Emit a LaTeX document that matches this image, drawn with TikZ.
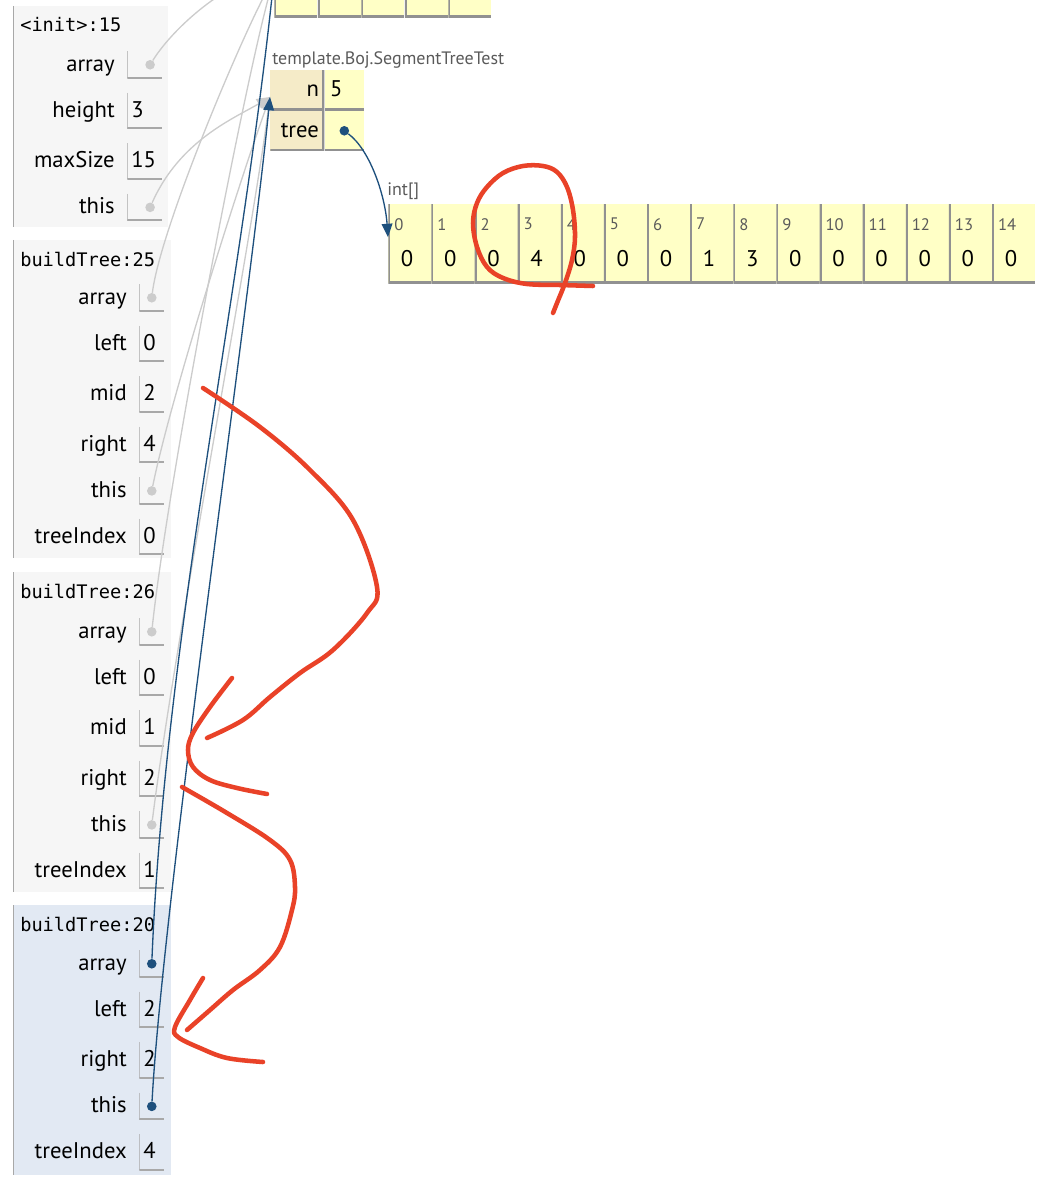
\documentclass[tikz,border=0pt]{standalone}
\usepackage{fontspec}
\setmainfont{PT Sans}
\setmonofont{DejaVu Sans Mono}
\usetikzlibrary{arrows.meta,positioning}

\definecolor{framebg}{RGB}{246,246,246}
\definecolor{curframebg}{RGB}{226,233,243}
\definecolor{frameline}{RGB}{168,168,168}
\definecolor{heapyellow}{RGB}{255,255,198}
\definecolor{heaptan}{RGB}{245,235,200}
\definecolor{cellline}{RGB}{145,145,145}
\definecolor{ptrblue}{RGB}{30,80,125}
\definecolor{ptrgray}{RGB}{204,204,204}
\definecolor{typegray}{RGB}{90,90,90}
\definecolor{penred}{RGB}{233,66,40}

\begin{document}
\begin{tikzpicture}[
    x=0.75pt, y=-0.75pt,
    varname/.style={
      inner sep=0pt, anchor=east,
      font=\fontsize{17}{20}\selectfont,
      text height=0.95em, text depth=0em,
    },
    valbox/.style={
      inner xsep=3pt, inner ysep=0pt,
      text width=#1, align=left, minimum height=27pt,
      font=\fontsize{17}{20}\selectfont,
      text height=0.95em, text depth=0em,
      path picture={
        \draw[frameline, line width=1.6pt]
          (path picture bounding box.north west) -- (path picture bounding box.south west);
        \draw[frameline, line width=2.4pt]
          (path picture bounding box.south west) -- (path picture bounding box.south east);
      },
    },
    valbox/.default=12.75pt,
    ptrbox/.style={valbox=#1, minimum height=20.25pt},
    ptrbox/.default=12.75pt,
    frametitle/.style={
      anchor=west, inner sep=0pt,
      font=\ttfamily\fontsize{14}{16}\selectfont,
    },
    dot/.style={circle, inner sep=0pt, minimum size=7.2pt, fill=#1},
    ptr/.style={draw=#1, line width=1pt, -{Triangle[length=10pt, width=8pt]}},
    arrcell/.style={
      anchor=north west, fill=heapyellow, inner sep=0pt,
      minimum width=32.35pt, minimum height=59.25pt,
      path picture={
        \draw[cellline, line width=3pt]
          (path picture bounding box.north west) -- (path picture bounding box.south west)
          -- (path picture bounding box.south east);
      },
    },
    idxlabel/.style={
      anchor=north west, inner sep=0pt,
      font=\fontsize{12.5}{14}\selectfont, text=typegray,
    },
    cellval/.style={inner sep=0pt, font=\fontsize{17}{20}\selectfont},
    typelabel/.style={
      anchor=base west, inner sep=0pt,
      font=\fontsize{13.5}{16}\selectfont, text=typegray,
    },
    keybox/.style={
      anchor=north west, fill=heaptan,
      inner xsep=4pt, inner ysep=0pt, text width=32.5pt, align=right,
      minimum height=30pt, font=\fontsize{17}{20}\selectfont,
      text height=0.95em, text depth=0em,
      path picture={
        \draw[cellline, line width=3pt]
          (path picture bounding box.north east) -- (path picture bounding box.south east)
          -- (path picture bounding box.south west);
      },
    },
    fieldbox/.style={
      anchor=north west, fill=heapyellow,
      inner xsep=4pt, inner ysep=0pt, text width=21.25pt, align=left,
      minimum height=30pt, font=\fontsize{17}{20}\selectfont,
      text height=0.95em, text depth=0em,
      path picture={
        \draw[cellline, line width=3pt]
          (path picture bounding box.south west) -- (path picture bounding box.south east);
      },
    },
    redpen/.style={draw=penred, line width=3.4pt, line cap=round, line join=round},
  ]

  \useasboundingbox (0,0) rectangle (1058,1180);
  \clip (0,0) rectangle (1058,1180);

  % Frame <init>:15
  \fill[framebg] (13,6) rectangle (168,227);
  \draw[frameline] (13,6) -- (13,227);
  \node[frametitle] (f1title) at (20,25) {<init>:15};
  \node[ptrbox=20.25pt, anchor=north west] (f1array) at (127,51) {};
  \node[valbox=20.25pt, below=10.5pt of f1array] (f1height) {3};
  \node[valbox=20.25pt, below=10.5pt of f1height] (f1maxSize) {15};
  \node[ptrbox=20.25pt, below=10.5pt of f1maxSize] (f1this) {};
  \node[varname, left=9pt of f1array] (f1arrayName) {array};
  \node[varname, left=9pt of f1height] (f1heightName) {height};
  \node[varname, left=9pt of f1maxSize] (f1maxSizeName) {maxSize};
  \node[varname, left=9pt of f1this] (f1thisName) {this};

  % Frame buildTree:25
  \fill[framebg] (13,240) rectangle (171,558);
  \draw[frameline] (13,240) -- (13,558);
  \node[frametitle] (f2title) at (20,259) {buildTree:25};
  \node[ptrbox, anchor=north west] (f2array) at (139,284) {};
  \node[valbox, below=10.5pt of f2array] (f2left) {0};
  \node[valbox, below=10.5pt of f2left] (f2mid) {2};
  \node[valbox, below=10.5pt of f2mid] (f2right) {4};
  \node[ptrbox, below=10.5pt of f2right] (f2this) {};
  \node[valbox, below=10.5pt of f2this] (f2treeIndex) {0};
  \node[varname, left=9pt of f2array] (f2arrayName) {array};
  \node[varname, left=9pt of f2left] (f2leftName) {left};
  \node[varname, left=9pt of f2mid] (f2midName) {mid};
  \node[varname, left=9pt of f2right] (f2rightName) {right};
  \node[varname, left=9pt of f2this] (f2thisName) {this};
  \node[varname, left=9pt of f2treeIndex] (f2treeIndexName) {treeIndex};

  % Frame buildTree:26
  \fill[framebg] (13,572) rectangle (171,892);
  \draw[frameline] (13,572) -- (13,892);
  \node[frametitle] (f3title) at (20,591) {buildTree:26};
  \node[ptrbox, anchor=north west] (f3array) at (139,618) {};
  \node[valbox, below=10.5pt of f3array] (f3left) {0};
  \node[valbox, below=10.5pt of f3left] (f3mid) {1};
  \node[valbox, below=10.5pt of f3mid] (f3right) {2};
  \node[ptrbox, below=10.5pt of f3right] (f3this) {};
  \node[valbox, below=10.5pt of f3this] (f3treeIndex) {1};
  \node[varname, left=9pt of f3array] (f3arrayName) {array};
  \node[varname, left=9pt of f3left] (f3leftName) {left};
  \node[varname, left=9pt of f3mid] (f3midName) {mid};
  \node[varname, left=9pt of f3right] (f3rightName) {right};
  \node[varname, left=9pt of f3this] (f3thisName) {this};
  \node[varname, left=9pt of f3treeIndex] (f3treeIndexName) {treeIndex};

  % Frame buildTree:20 (current)
  \fill[curframebg] (13,905) rectangle (171,1175);
  \draw[frameline] (13,905) -- (13,1175);
  \node[frametitle] (f4title) at (20,924) {buildTree:20};
  \node[ptrbox, anchor=north west] (f4array) at (139,950) {};
  \node[valbox, below=10.5pt of f4array] (f4left) {2};
  \node[valbox, below=10.5pt of f4left] (f4right) {2};
  \node[ptrbox, below=10.5pt of f4right] (f4this) {};
  \node[valbox, below=10.5pt of f4this] (f4treeIndex) {4};
  \node[varname, left=9pt of f4array] (f4arrayName) {array};
  \node[varname, left=9pt of f4left] (f4leftName) {left};
  \node[varname, left=9pt of f4right] (f4rightName) {right};
  \node[varname, left=9pt of f4this] (f4thisName) {this};
  \node[varname, left=9pt of f4treeIndex] (f4treeIndexName) {treeIndex};

  % Heap: input array (cut off at the top)
  \foreach \i in {0,...,4} {
    \node[arrcell] (topcell\i) at ({274+43.5*\i},-62) {};
  }

  % Heap: SegmentTreeTest object
  \node[typelabel] (objtype) at (272,65) {template.Boj.SegmentTreeTest};
  \node[keybox] (nkey) at (270,70) {n};
  \node[fieldbox, right=0pt of nkey] (nval) {5};
  \node[keybox, below=0pt of nkey] (treekey) {tree};
  \node[fieldbox, right=0pt of treekey] (treeval) {};
  \coordinate (objIn) at ([yshift=-5pt]nkey.west);

  % Heap: int[] tree
  \node[typelabel] (treetype) at (387,196) {int[]};
  \foreach \v [count=\i from 0] in {0,0,0,4,0,0,0,1,3,0,0,0,0,0,0} {
    \node[arrcell] (cell\i) at ({388+43.13*\i},204) {};
    \node[idxlabel] (idx\i) at ([xshift=4.5pt, yshift=-10.5pt]cell\i.north west) {\i};
    \node[cellval] (val\i) at ([xshift=-2pt, yshift=-10.9pt]cell\i.center) {\v};
  }
  \coordinate (arrIn) at ([yshift=5pt]cell0.west);

  % Pointer dots
  \node[dot=ptrgray] (f1arrayDot) at ([xshift=4pt]f1array.center) {};
  \node[dot=ptrgray] (f1thisDot) at ([xshift=4pt]f1this.center) {};
  \node[dot=ptrgray] (f2arrayDot) at (f2array.center) {};
  \node[dot=ptrgray] (f2thisDot) at (f2this.center) {};
  \node[dot=ptrgray] (f3arrayDot) at (f3array.center) {};
  \node[dot=ptrgray] (f3thisDot) at (f3this.center) {};
  \node[dot=ptrblue] (f4arrayDot) at (f4array.center) {};
  \node[dot=ptrblue] (f4thisDot) at (f4this.center) {};
  \node[dot=ptrblue] (treeDot) at (treeval.center) {};

  % Inactive frames point in gray
  \draw[ptr=ptrgray] (f1arrayDot) .. controls (175,25) and (230,-20) .. (topcell0.west);
  \draw[ptr=ptrgray] (f1thisDot) .. controls (180,140) and (235,118) .. (objIn);
  \draw[ptr=ptrgray] (f2arrayDot) .. controls (160,230) and (240,40) .. (topcell0.west);
  \draw[ptr=ptrgray] (f2thisDot) .. controls (170,400) and (240,180) .. (objIn);
  \draw[ptr=ptrgray] (f3arrayDot) .. controls (168,480) and (245,80) .. (topcell0.west);
  \draw[ptr=ptrgray] (f3thisDot) .. controls (175,640) and (250,250) .. (objIn);
  % Current frame and heap pointers in blue
  \draw[ptr=ptrblue] (f4arrayDot) .. controls (165,640) and (240,300) .. (topcell0.west);
  \draw[ptr=ptrblue] (f4thisDot) .. controls (163,900) and (250,300) .. (objIn);
  \draw[ptr=ptrblue] (treeDot) .. controls (370,150) and (385,195) .. (arrIn);

  % Red pen marks
  \draw[redpen] plot[smooth, tension=0.6] coordinates {
    (593,286) (560,285) (527,284) (503,278) (487,267) (477,247) (473,223)
    (477,203) (487,187) (503,173) (523,166) (543,166) (557,172) (567,187)
    (573,210) (575,237) (572,260) (565,283) (557,303) (553,313)};
  \draw[redpen] plot[smooth, tension=0.6] coordinates {
    (203,388) (260,427) (310,470) (353,520) (377,587) (367,613) (333,650)
    (300,673) (270,697) (243,720) (207,738)};
  \draw[redpen] plot[smooth, tension=0.6] coordinates {
    (232,678) (210,707) (193,733) (188,750) (193,767) (210,780) (237,788) (267,794)};
  \draw[redpen] plot[smooth, tension=0.6] coordinates {
    (182,787) (227,813) (270,840) (290,860) (295,887) (292,910) (280,947)
    (260,970) (233,990) (210,1010) (187,1030)};
  \draw[redpen] plot[smooth, tension=0.6] coordinates {
    (203,978) (190,1000) (175,1027) (178,1037) (200,1048) (227,1058) (263,1062)};

\end{tikzpicture}
\end{document}
